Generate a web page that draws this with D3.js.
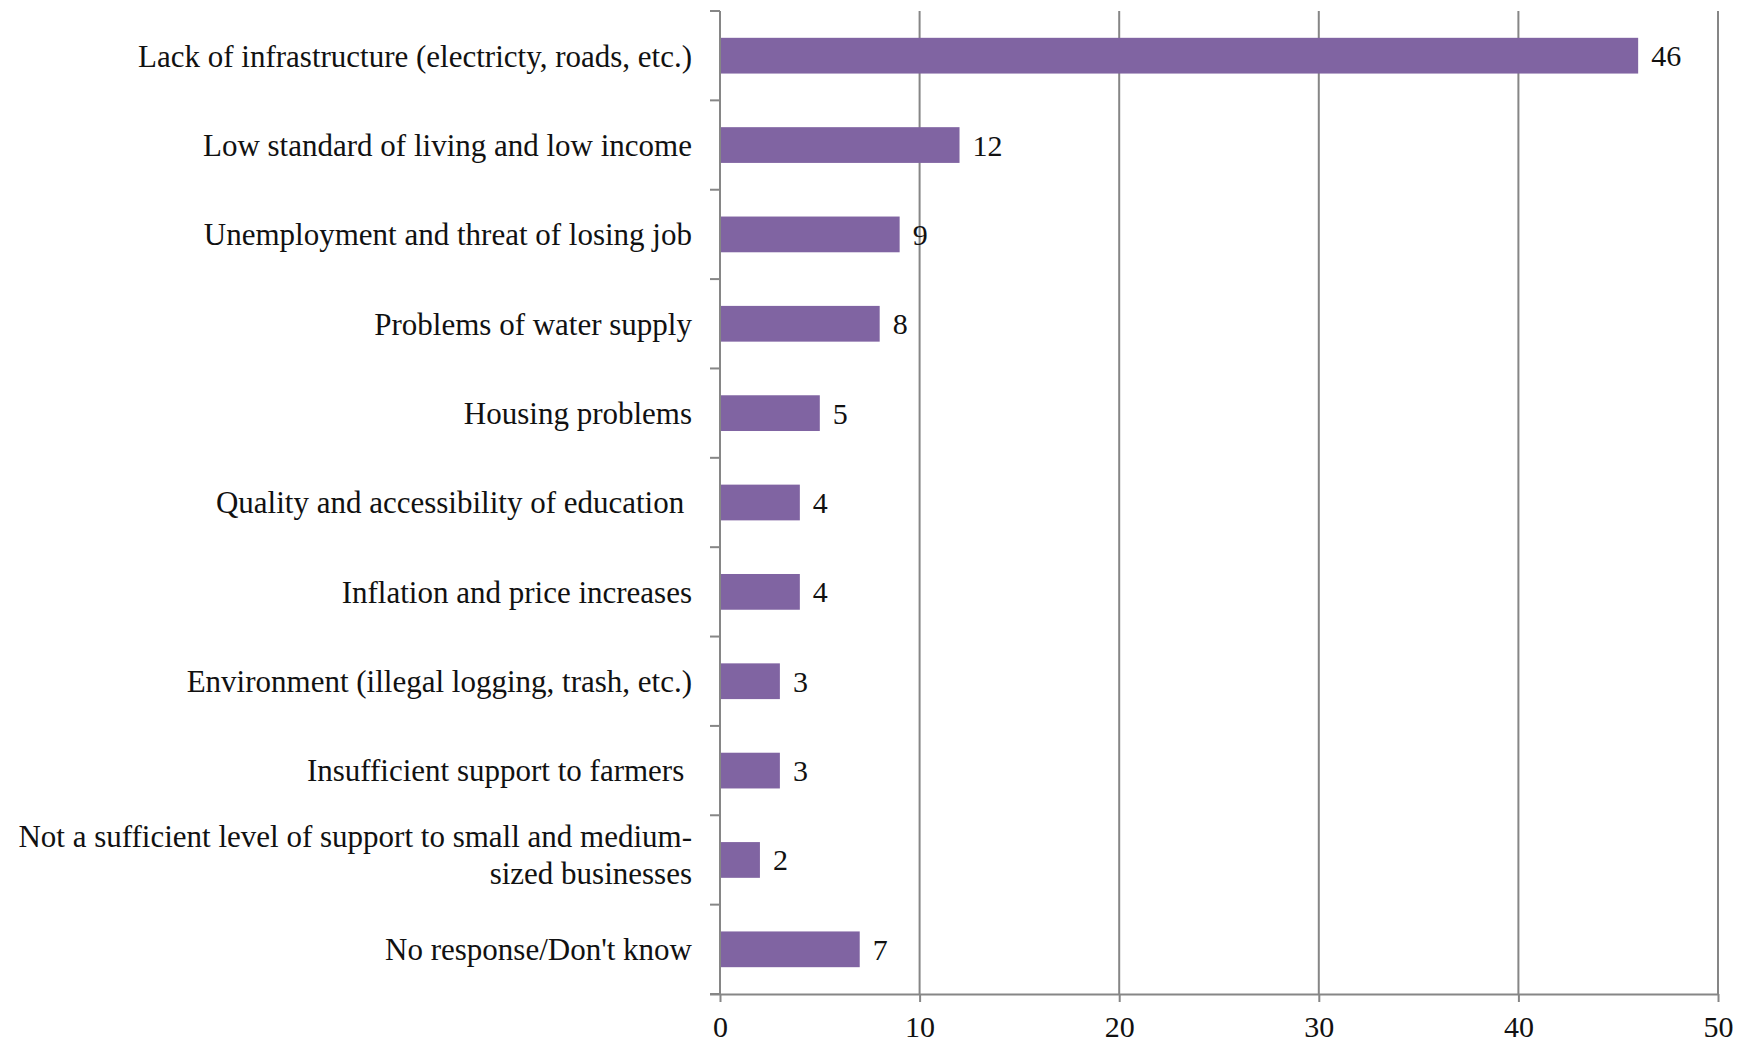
<!DOCTYPE html>
<html>
<head>
<meta charset="utf-8">
<script src="https://cdn.jsdelivr.net/npm/d3@7"></script>
<style>
  html, body { margin: 0; padding: 0; background: #fff; }
  svg { display: block; }
  text { font-family: "Liberation Serif", "Times New Roman", serif; fill: #111; }
</style>
</head>
<body>
<svg id="chart" width="1737" height="1044"></svg>
<script>
const categories = [
  "Lack of infrastructure (electricty, roads, etc.)",
  "Low standard of living and low income",
  "Unemployment and threat of losing job",
  "Problems of water supply",
  "Housing problems",
  "Quality and accessibility of education ",
  "Inflation and price increases",
  "Environment (illegal logging, trash, etc.)",
  "Insufficient support to farmers ",
  "Not a sufficient level of support to small and medium-\nsized businesses",
  "No response/Don't know"
];
const values = [46, 12, 9, 8, 5, 4, 4, 3, 3, 2, 7];
const xTicks = [0, 10, 20, 30, 40, 50];

const W = 1737, H = 1044;
const margin = { left: 720, right: 19, top: 11, bottom: 50 };
const svg = d3.select("#chart");
const FS = 31;      // category labels
const NFS = 30;     // numbers
const barColor = "#8064A2";
const gridColor = "#868686";

const x = d3.scaleLinear().domain([0, 50]).range([margin.left, W - margin.right]);
const y = d3.scaleBand().domain(categories).range([margin.top, H - margin.bottom]).padding(0);
const barH = y.bandwidth() * 0.4;

// gridlines
svg.append("g").selectAll("line").data(xTicks.filter(d => d > 0)).join("line")
  .attr("x1", d => x(d)).attr("x2", d => x(d))
  .attr("y1", margin.top).attr("y2", H - margin.bottom)
  .attr("stroke", gridColor).attr("stroke-width", 2);

// bars
svg.append("g").selectAll("rect").data(categories).join("rect")
  .attr("x", x(0))
  .attr("y", (d) => y(d) + (y.bandwidth() - barH) / 2)
  .attr("width", (d, i) => x(values[i]) - x(0))
  .attr("height", barH)
  .attr("fill", barColor);

// value labels
svg.append("g").selectAll("text").data(categories).join("text")
  .attr("x", (d, i) => x(values[i]) + 13)
  .attr("y", d => y(d) + y.bandwidth() / 2)
  .attr("dy", "0.35em")
  .attr("font-size", NFS)
  .text((d, i) => values[i]);

// x axis
const xAxis = d3.axisBottom(x).tickValues(xTicks).tickSize(8).tickPadding(14).tickFormat(d3.format("d"));
const gx = svg.append("g").attr("transform", `translate(0,${H - margin.bottom})`).call(xAxis);
gx.select(".domain").attr("stroke", gridColor).attr("stroke-width", 2)
  .attr("d", `M${x(0) - 10},0.5H${x(50)}`);
gx.selectAll(".tick line").attr("stroke", gridColor).attr("stroke-width", 2);
gx.selectAll(".tick text").attr("font-size", NFS).attr("font-family", "Liberation Serif, serif").attr("fill", "#111");

// y axis
const gy = svg.append("g").attr("transform", `translate(${x(0)},0)`);
gy.append("line").attr("x1", 0).attr("x2", 0).attr("y1", margin.top).attr("y2", H - margin.bottom)
  .attr("stroke", gridColor).attr("stroke-width", 2);
const bounds = categories.map(d => y(d)).concat([y(categories[categories.length - 1]) + y.bandwidth()]);
gy.selectAll("line.tk").data(bounds).join("line").attr("class", "tk")
  .attr("x1", -10).attr("x2", 0).attr("y1", d => d).attr("y2", d => d)
  .attr("stroke", gridColor).attr("stroke-width", 2);

// category labels
const lab = svg.append("g").selectAll("text").data(categories).join("text")
  .attr("text-anchor", "end")
  .attr("font-size", FS)
  .attr("y", d => y(d) + y.bandwidth() / 2)
  .attr("x", x(0) - 28)
  .style("white-space", "pre");
lab.each(function(d) {
  const lines = d.split("\n");
  const t = d3.select(this);
  const lh = 36.7;
  const start = -(lines.length - 1) / 2 * lh;
  const adj = lines.length > 1 ? -5 : 0;
  lines.forEach((ln, i) => {
    t.append("tspan").attr("x", x(0) - 28)
      .attr("dy", i === 0 ? (start + 0.35 * FS + adj) : lh)
      .text(ln);
  });
});
</script>
</body>
</html>
